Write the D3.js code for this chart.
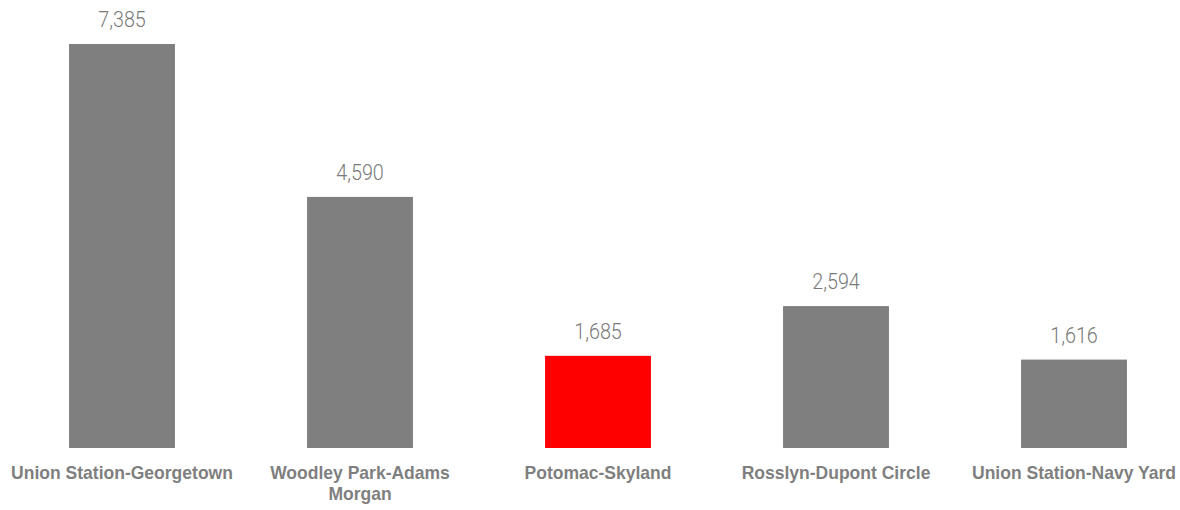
<!DOCTYPE html>
<html><head><meta charset="utf-8">
<script src="https://cdn.jsdelivr.net/npm/d3@7"></script>
<style>
html,body{margin:0;padding:0;background:#fff;}
svg{display:block;}
</style></head>
<body>
<svg id="chart" width="1180" height="510"></svg>
<script>
const categories = ["Union Station-Georgetown","Woodley Park-Adams Morgan","Potomac-Skyland","Rosslyn-Dupont Circle","Union Station-Navy Yard"];
const values = [7385, 4590, 1685, 2594, 1616];
const highlight = ["Potomac-Skyland"];

(function(){
const svg = d3.select("#chart");
const baseline = 448, plotTop = 44;
const x = d3.scaleBand().domain(categories).range([3, 1193]).paddingInner(0.555).paddingOuter(0.2775);
const y = d3.scaleLinear().domain([0, 7385]).range([baseline, plotTop]);

svg.selectAll("rect.bar").data(categories).join("rect")
  .attr("class","bar")
  .attr("x", d => x(d))
  .attr("width", x.bandwidth())
  .attr("y", (d,i) => y(values[i]))
  .attr("height", (d,i) => baseline - y(values[i]))
  .attr("fill", d => highlight.includes(d) ? "#ff0000" : "#7f7f7f");

const fmt = d3.format(",");
const vsx = 0.92;
svg.selectAll("text.val").data(categories).join("text")
  .attr("class","val")
  .attr("transform", (d,i) => `translate(${x(d) + x.bandwidth()/2},${y(values[i]) - 17}) scale(${vsx},1)`)
  .attr("text-anchor","middle")
  .attr("font-family","'Roboto', sans-serif")
  .attr("font-size", 21.5)
  .attr("font-weight", 300)
  .attr("fill","#7a7a7a")
  .text((d,i) => fmt(values[i]));

const step = x.step();
const csx = 0.922;
const labels = svg.selectAll("text.cat").data(categories).join("text")
  .attr("class","cat")
  .attr("transform", d => `translate(${x(d) + x.bandwidth()/2},479) scale(${csx},1)`)
  .attr("text-anchor","middle")
  .attr("font-family","'Liberation Sans', Arial, sans-serif")
  .attr("font-size", 19)
  .attr("font-weight", "bold")
  .attr("fill","#7f7f7f");

labels.each(function(d){
  const t = d3.select(this);
  const words = d.split(" ");
  let line = [];
  let tspan = t.append("tspan").attr("x", 0).attr("dy", 0);
  for (const w of words) {
    line.push(w);
    tspan.text(line.join(" "));
    if (tspan.node().getComputedTextLength() * csx > step - 10 && line.length > 1) {
      line.pop();
      tspan.text(line.join(" "));
      line = [w];
      tspan = t.append("tspan").attr("x", 0).attr("dy", 21).text(w);
    }
  }
});
})();
</script>
</body></html>
